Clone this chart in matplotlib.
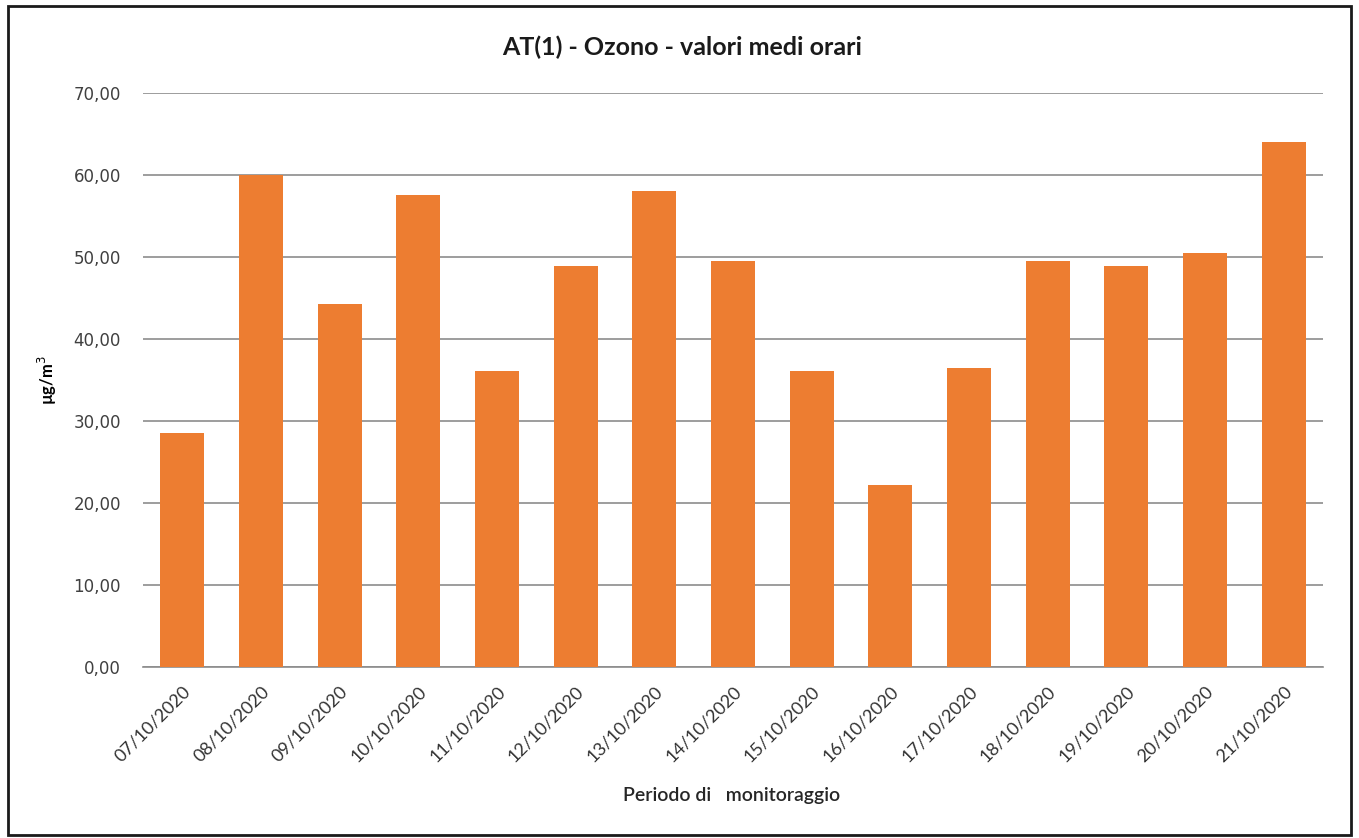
import matplotlib
matplotlib.use("Agg")
import matplotlib.pyplot as plt
from matplotlib.patches import Rectangle
import matplotlib.transforms as mtransforms

dates = ["07/10/2020", "08/10/2020", "09/10/2020", "10/10/2020", "11/10/2020",
         "12/10/2020", "13/10/2020", "14/10/2020", "15/10/2020", "16/10/2020",
         "17/10/2020", "18/10/2020", "19/10/2020", "20/10/2020", "21/10/2020"]
values = [28.5, 60.0, 44.3, 57.6, 36.1, 48.9, 58.1, 49.5, 36.1, 22.2,
          36.5, 49.5, 48.9, 50.5, 64.0]
yticks = [0, 10, 20, 30, 40, 50, 60, 70]
ytick_labels = ["0,00", "10,00", "20,00", "30,00", "40,00", "50,00", "60,00", "70,00"]

W, H = 1359, 838
fig = plt.figure(figsize=(W / 100, H / 100), dpi=100)
fig.patch.set_facecolor("white")

# outer frame
fig.patches.append(Rectangle((8 / W, 3 / H), 1343 / W, 829 / H, transform=fig.transFigure,
                             fill=False, edgecolor="#1a1a1a", linewidth=2))

left, right, top, bottom = 143, 1323, 93, 667
ax = fig.add_axes([left / W, 1 - bottom / H, (right - left) / W, (bottom - top) / H])

x = range(len(dates))
ax.bar(x, values, width=0.56, color="#ED7D31", zorder=3)
ax.set_xlim(-0.5, len(dates) - 0.5)
ax.set_ylim(0, 70)
ax.set_yticks(yticks)
ax.set_yticklabels(ytick_labels, fontsize=12, color="#404040", family="DejaVu Sans")
ax.set_xticks(list(x))
ax.set_xticklabels(dates, rotation=45, ha="right", va="center", rotation_mode="anchor",
                   fontsize=13, color="#333333", family="Lato")
ax.grid(axis="y", color="#8c8c8c", linewidth=1.2, zorder=0)
for s in ["top", "right", "left"]:
    ax.spines[s].set_visible(False)
ax.spines["bottom"].set_color("#8c8c8c")
ax.spines["bottom"].set_linewidth(1.2)
ax.tick_params(axis="y", length=0, pad=16)
ax.tick_params(axis="x", length=0, pad=16)
# shift date labels slightly right so their ends sit at the bar centres
offset = mtransforms.ScaledTranslation(4 / 72, 0, fig.dpi_scale_trans)
for lab in ax.get_xticklabels():
    lab.set_transform(lab.get_transform() + offset)

ax.set_ylabel("µg/m$^3$", fontsize=12, fontweight="bold", family="Lato", labelpad=10)
fig.text(732 / W, 1 - 795 / H, "Periodo di   monitoraggio",
         ha="center", va="center", fontsize=14, fontweight="semibold", family="Lato",
         color="#262626")
fig.text(682 / W, 1 - 47 / H, "AT(1) - Ozono - valori medi orari", ha="center", va="center",
         fontsize=18, fontweight="bold", family="Lato", color="#1a1a1a")

fig.savefig("out.png", dpi=100)
